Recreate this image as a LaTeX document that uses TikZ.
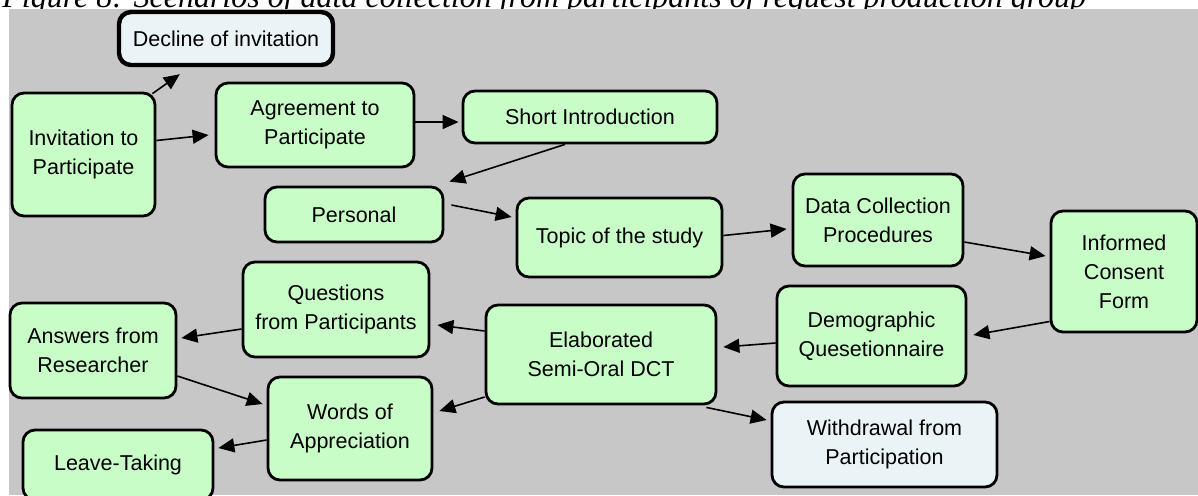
\documentclass[tikz,border=0pt]{standalone}
\usepackage{fontspec}
\setmainfont{Liberation Sans}
\newfontfamily\capfont{Liberation Serif}
\usepackage{xcolor}
\usetikzlibrary{arrows.meta}

\definecolor{boxgreen}{RGB}{200,253,200}
\definecolor{boxpale}{RGB}{234,243,245}
\definecolor{bggray}{RGB}{199,199,199}

\begin{document}
\begin{tikzpicture}[
  x=0.5pt, y=-0.5pt,
  box/.style={draw, line width=1.4pt, rounded corners=6pt, align=center, fill=boxgreen, inner sep=1pt,
    font=\fontsize{10.75}{14.5}\selectfont},
  endbox/.style={box, fill=boxpale},
  arrow/.style={-{Triangle[length=8pt,width=7pt]}, line width=0.8pt}
]
  \useasboundingbox (0,0) rectangle (1198,495);
  \clip (0,0) rectangle (1198,495);

  % caption, cut at the top
  \node[anchor=base west, inner sep=0pt, font=\capfont\itshape\fontsize{16}{19}\selectfont] (caption) at (2,7)
    {Figure 8: Scenarios of data collection from participants of request production group};
  \fill[bggray] (9,9) rectangle (1198,495);

  \node[endbox, line width=2.2pt, minimum width=107pt, minimum height=26.5pt] (decl) at (226,38.5) {Decline of invitation};
  \node[box, minimum width=71.5pt, minimum height=61.5pt] (inv)   at (83.5,154.5) {Invitation to\\Participate};
  \node[box, minimum width=99pt,   minimum height=42pt]   (agr)   at (315,125)    {Agreement to\\Participate};
  \node[box, minimum width=127pt,  minimum height=26pt]   (intro) at (590,117)    {Short Introduction};
  \node[box, minimum width=89pt,   minimum height=27.5pt] (pers)  at (354,214.5)  {Personal};
  \node[box, minimum width=102.5pt,minimum height=39.5pt] (topic) at (619.5,237.5){Topic of the study};
  \node[box, minimum width=85pt,   minimum height=46pt]   (data)  at (878,220)    {Data Collection\\Procedures};
  \node[box, minimum width=73pt,   minimum height=60.5pt] (cons)  at (1124,271.5) {Informed\\Consent\\Form};
  \node[box, minimum width=94.5pt, minimum height=50pt]   (demo)  at (871.5,336)  {Demographic\\Quesetionnaire};
  \node[box, minimum width=115pt,  minimum height=49.5pt] (elab)  at (601,354.5)  {Elaborated\\Semi-Oral DCT};
  \node[box, minimum width=93pt,   minimum height=47.5pt] (quest) at (336,309.5)  {Questions\\from Participants};
  \node[box, minimum width=83pt,   minimum height=47.5pt] (answ)  at (93,350.5)   {Answers from\\Researcher};
  \node[box, minimum width=82pt,   minimum height=51.5pt] (words) at (350,428.5)  {Words of\\Appreciation};
  \node[box, minimum width=95pt,   minimum height=35pt]   (leave) at (118,465)    {Leave-Taking};
  \node[endbox, minimum width=112.5pt, minimum height=42.5pt] (withd) at (884.5,444.5) {Withdrawal from\\Participation};

  % arrows
  \draw[arrow] ([shift={(-4,2)}]inv.north east) -- ([shift={(63,7)}]decl.south west);
  \draw[arrow] ([shift={(0,-14)}]inv.east) -- ([shift={(-6,10)}]agr.west);
  \draw[arrow] ([shift={(0,-3)}]agr.east) -- ([shift={(-3,5)}]intro.west);
  \draw[arrow] ([shift={(-25,0)}]intro.south) -- ([shift={(5,-4)}]pers.north east);
  \draw[arrow] ([shift={(7,-9.5)}]pers.east) -- ([shift={(-4,-20.5)}]topic.west);
  \draw[arrow] ([shift={(0,-2)}]topic.east) -- ([shift={(-5,9)}]data.west);
  \draw[arrow] ([shift={(0,22)}]data.east) -- ([shift={(-4,-15.5)}]cons.west);
  \draw[arrow] ([shift={(0,50)}]cons.west) -- ([shift={(6,-1)}]demo.east);
  \draw[arrow] ([shift={(0,7)}]demo.west) -- ([shift={(6,-7.5)}]elab.east);
  \draw[arrow] ([shift={(0,-23.5)}]elab.west) -- ([shift={(7,15.5)}]quest.east);
  \draw[arrow] ([shift={(0,19.5)}]quest.west) -- ([shift={(4,-12.5)}]answ.east);
  \draw[arrow] ([shift={(0,25.5)}]answ.east) -- ([shift={(-4,-24.5)}]words.west);
  \draw[arrow] ([shift={(0,42.5)}]elab.west) -- ([shift={(6,-17.5)}]words.east);
  \draw[arrow] ([shift={(0,11.5)}]words.west) -- ([shift={(4,-17)}]leave.east);
  \draw[arrow] ([shift={(-11,2)}]elab.south east) -- ([shift={(-4,-24.5)}]withd.west);
\end{tikzpicture}
\end{document}
